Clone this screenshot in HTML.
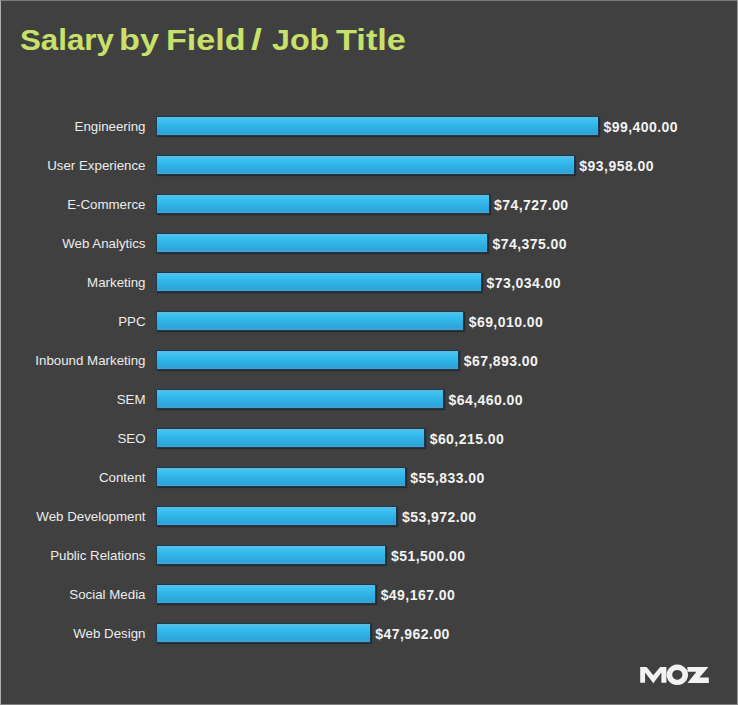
<!DOCTYPE html>
<html><head><meta charset="utf-8"><style>
html,body{margin:0;padding:0}
body{width:738px;height:705px;position:relative;overflow:hidden;background:#404040;font-family:"Liberation Sans",sans-serif}
.frame{position:absolute;left:0;top:0;width:738px;height:705px;box-sizing:border-box;border-left:1px solid #acacac;border-top:1px solid #7c7c7c;border-right:1px solid #999999;border-bottom:1px solid #808080}
.tw{position:absolute;transform-origin:0 0;top:19px;font-weight:bold;font-size:30.4px;line-height:40px;color:#c8e16a;white-space:nowrap}
.lab{position:absolute;right:592.5px;font-size:13.3px;color:#ececec;white-space:nowrap;line-height:20px}
.val{position:absolute;font-size:14px;letter-spacing:0.45px;font-weight:bold;color:#f2f2f2;white-space:nowrap;line-height:20px}
.bar{position:absolute;left:156px;height:18px;border:1px solid #1c3a50;background:linear-gradient(#62bae0,#3cc2f2 18%,#32b6ea 45%,#2ca6dc 85%,#46a2cc);box-shadow:1px 1px 1px rgba(0,0,0,.35)}
</style></head><body>
<div class="frame"></div>
<div class="tw" style="left:19.97px;transform:scaleX(1.029)">Salary</div><div class="tw" style="left:119.34px;transform:scaleX(1.128)">by</div><div class="tw" style="left:165.66px;transform:scaleX(1.121)">Field</div><div class="tw" style="left:251.3px;transform:scaleX(1.3)">/</div><div class="tw" style="left:271.64px;transform:scaleX(1.059)">Job</div><div class="tw" style="left:336.4px;transform:scaleX(1.13)">Title</div>
<div class="lab" style="top:117px">Engineering</div><div class="bar" style="top:116px;width:441.00px"></div><div class="val" style="top:117px;left:603.50px">$99,400.00</div>
<div class="lab" style="top:156px">User Experience</div><div class="bar" style="top:155px;width:416.86px"></div><div class="val" style="top:156px;left:579.36px">$93,958.00</div>
<div class="lab" style="top:195px">E-Commerce</div><div class="bar" style="top:194px;width:331.54px"></div><div class="val" style="top:195px;left:494.04px">$74,727.00</div>
<div class="lab" style="top:234px">Web Analytics</div><div class="bar" style="top:233px;width:329.97px"></div><div class="val" style="top:234px;left:492.47px">$74,375.00</div>
<div class="lab" style="top:273px">Marketing</div><div class="bar" style="top:272px;width:324.02px"></div><div class="val" style="top:273px;left:486.52px">$73,034.00</div>
<div class="lab" style="top:312px">PPC</div><div class="bar" style="top:311px;width:306.17px"></div><div class="val" style="top:312px;left:468.67px">$69,010.00</div>
<div class="lab" style="top:351px">Inbound Marketing</div><div class="bar" style="top:350px;width:301.22px"></div><div class="val" style="top:351px;left:463.72px">$67,893.00</div>
<div class="lab" style="top:390px">SEM</div><div class="bar" style="top:389px;width:285.98px"></div><div class="val" style="top:390px;left:448.48px">$64,460.00</div>
<div class="lab" style="top:429px">SEO</div><div class="bar" style="top:428px;width:267.15px"></div><div class="val" style="top:429px;left:429.65px">$60,215.00</div>
<div class="lab" style="top:468px">Content</div><div class="bar" style="top:467px;width:247.71px"></div><div class="val" style="top:468px;left:410.21px">$55,833.00</div>
<div class="lab" style="top:507px">Web Development</div><div class="bar" style="top:506px;width:239.45px"></div><div class="val" style="top:507px;left:401.95px">$53,972.00</div>
<div class="lab" style="top:546px">Public Relations</div><div class="bar" style="top:545px;width:228.49px"></div><div class="val" style="top:546px;left:390.99px">$51,500.00</div>
<div class="lab" style="top:585px">Social Media</div><div class="bar" style="top:584px;width:218.14px"></div><div class="val" style="top:585px;left:380.64px">$49,167.00</div>
<div class="lab" style="top:624px">Web Design</div><div class="bar" style="top:623px;width:212.79px"></div><div class="val" style="top:624px;left:375.29px">$47,962.00</div>
<svg style="position:absolute;left:0;top:0" width="738" height="705"><g fill="#f2f2f2">
<path d="M640.2 667H646.6L653.3 675.2L660.2 667H666.4V682.8H661.4V672.5L653.3 683.2L645.1 672.5V682.8H640.2Z"/>
<path fill-rule="evenodd" d="M677.3 664.5a10.8 10.3 0 1 0 0.01 0ZM677.3 669.9a5.1 4.9 0 1 1 -0.01 0Z"/>
<path d="M687.4 667H708.4L699.5 677.6H708.8V683H687.5L696.4 671.8H687.4Z"/>
</g></svg>
</body></html>
